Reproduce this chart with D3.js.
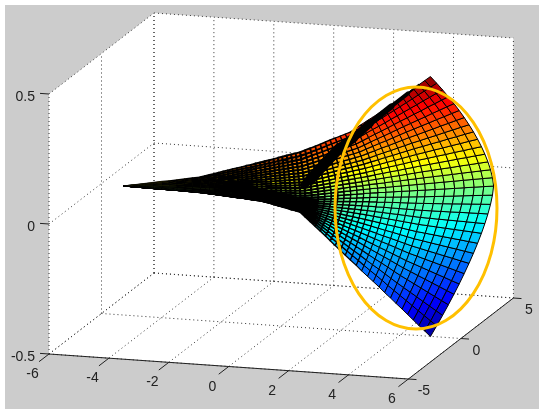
<!DOCTYPE html>
<html><head><meta charset="utf-8">
<style>html,body{margin:0;padding:0;background:#fff}svg{display:block;filter:blur(0.35px)}text{font-family:"Liberation Sans",Arial,sans-serif;font-size:14px;fill:#222}</style>
<script src="https://cdn.jsdelivr.net/npm/d3@7/dist/d3.min.js"></script>
</head><body><svg id="c" width="543" height="414"></svg>
<script>
const xTicks=[-6,-4,-2,0,2,4,6];
const yTicks=[-5,0,5];
const zTicks=[-0.5,0,0.5];
const zTickLabels=["-0.5","0","0.5"];
// Row positions across each arc (bottom edge to top edge)
const rowPos=[-1,-.933,-.867,-.8,-.733,-.667,-.6,-.533,-.467,-.4,-.333,-.267,-.2,-.133,-.067,0,.067,.133,.2,.267,.333,.4,.467,.533,.6,.667,.733,.8,.867,.933,1];
// Per-arc profiles, tip to right edge
const edgeX=[-5.24,-5.01,-4.78,-4.55,-4.32,-4.09,-3.86,-3.63,-3.40,-3.17,-2.94,-2.81,-2.68,-2.54,-2.41,-2.28,-2.15,-2.01,-1.88,-1.75,-1.62,-1.48,-1.35,-1.22,-1.08,-.94,-.80,-.66,-.53,-.39,-.25,-.11,.03,.24,.45,.66,.87,1.08,1.28,1.49,1.70,1.91,2.12,2.33,2.53,2.74,2.95,3.16,3.36,3.57,3.77,3.98,4.18,4.38,4.58,4.79,4.99];
const edgeY=[-.11,-.03,.04,.12,.20,.28,.35,.43,.51,.58,.66,.72,.79,.85,.91,.98,1.04,1.10,1.16,1.23,1.29,1.35,1.42,1.48,1.51,1.54,1.56,1.59,1.62,1.65,1.67,1.70,1.73,1.61,1.49,1.37,1.25,1.14,1.02,.90,.78,.66,.54,.50,.45,.41,.36,.32,.27,.23,.19,.16,.12,.09,.05,.02,-.02];
const edgeZ=[0,.003,.006,.009,.012,.015,.017,.020,.023,.026,.029,.032,.036,.039,.043,.046,.049,.053,.056,.059,.063,.066,.070,.073,.078,.082,.087,.092,.096,.101,.106,.110,.115,.128,.141,.154,.167,.181,.194,.207,.220,.233,.246,.264,.282,.300,.317,.335,.353,.371,.389,.408,.426,.445,.463,.482,.5];
const midX=[-5.24,-4.98,-4.72,-4.46,-4.20,-3.95,-3.69,-3.43,-3.17,-2.91,-2.65,-2.49,-2.34,-2.18,-2.03,-1.87,-1.71,-1.56,-1.40,-1.25,-1.09,-.93,-.78,-.62,-.46,-.30,-.14,.02,.18,.34,.50,.66,.82,1.0,1.18,1.36,1.54,1.72,1.89,2.07,2.25,2.43,2.61,2.83,3.06,3.28,3.51,3.73,3.96,4.18,4.46,4.73,5.01,5.28,5.56,5.83,6.11];
const midY=[-.11,-.11,-.10,-.10,-.10,-.09,-.09,-.09,-.08,-.08,-.07,-.07,-.07,-.07,-.06,-.06,-.06,-.06,-.05,-.05,-.05,-.05,-.04,-.04,-.04,-.04,-.04,-.04,-.04,-.04,-.04,-.04,-.04,.07,.18,.28,.39,.50,.61,.72,.82,.93,1.04,1.15,1.26,1.37,1.48,1.59,1.70,1.81,1.95,2.09,2.23,2.38,2.52,2.66,2.80];
// Colour span of each arc above and below its green centre
const colorTop=[.10,.11,.12,.13,.14,.15,.16,.17,.18,.19,.20,.21,.22,.22,.23,.24,.25,.26,.26,.27,.28,.28,.28,.28,.29,.29,.29,.29,.29,.29,.30,.30,.30,.30,.31,.31,.32,.32,.32,.33,.33,.34,.34,.35,.36,.37,.38,.40,.41,.42,.43,.44,.45,.46,.47,.49,.5];
const colorBottom=[.05,.05,.05,.05,.06,.06,.06,.06,.06,.06,.06,.07,.07,.07,.07,.07,.07,.08,.08,.08,.08,.08,.08,.08,.09,.09,.09,.09,.09,.09,.10,.10,.10,.11,.11,.12,.13,.15,.17,.19,.21,.23,.25,.26,.27,.28,.29,.30,.31,.32,.34,.37,.39,.42,.45,.47,.5];
// Dense crease where mesh lines pile up to solid black
const foldArc=[32,33,36,39,42,45,49,52,54];
const foldRow=[.34,.42,.66,.82,.9,.95,.985,.995,1];
const foldWidth=[6,10,11,10,9,7,5,3,1];
const jetStops=[0,.125,.375,.625,.875,1];
const jetColors=["#00008f","#0000ff","#00ffff","#ffff00","#ff0000","#800000"];

const xH=d3.scaleLinear().domain([-6,6]).range([49,408.4]);
const yH=d3.scaleLinear().domain([-5,5]).range([0,105]);
const xV=d3.scaleLinear().domain([-6,6]).range([354,379]);
const yV=d3.scaleLinear().domain([-5,5]).range([0,-81]);
const zV=d3.scaleLinear().domain([-.5,.5]).range([0,-260]);
const jet=d3.scaleLinear().domain(jetStops).range(jetColors).interpolate(d3.interpolateRgb);
const arcStroke=d3.scaleLinear().domain([0,10,20,32,36,44]).range([.6,1.3,1.9,2,1.5,1]).clamp(true);
const project=(x,y,z)=>[xH(x)+yH(y),xV(x)+yV(y)+zV(z)];
const line=d3.line();
const svg=d3.select("#c");

svg.append("rect").attr("x",5).attr("y",5).attr("width",534).attr("height",404).attr("fill","#cccccc");
const [x0,x1]=d3.extent(xTicks),[y0,y1]=d3.extent(yTicks),[z0,z1]=d3.extent(zTicks);
svg.append("path").attr("fill","#fff").attr("d",line([
 project(x0,y0,z0),project(x0,y0,z1),project(x0,y1,z1),project(x1,y1,z1),project(x1,y1,z0),project(x1,y0,z0)])+"Z");

// Dotted grid
const gridSegs=[];
yTicks.forEach(y=>{gridSegs.push([project(x0,y,z0),project(x0,y,z1)]);gridSegs.push([project(x0,y,z0),project(x1,y,z0)]);});
xTicks.forEach(x=>{gridSegs.push([project(x,y1,z0),project(x,y1,z1)]);gridSegs.push([project(x,y0,z0),project(x,y1,z0)]);});
zTicks.forEach(z=>{gridSegs.push([project(x0,y0,z),project(x0,y1,z)]);gridSegs.push([project(x0,y1,z),project(x1,y1,z)]);});
svg.append("g").attr("fill","none").attr("stroke","#333").attr("stroke-width",1).attr("stroke-dasharray","1 3")
 .selectAll("path").data(gridSegs).join("path").attr("d",d=>line(d));

// Axis lines and ticks
const axisG=svg.append("g").attr("stroke","#222").attr("stroke-width",1).attr("fill","none");
axisG.append("path").attr("d",line([project(x0,y0,z0),project(x1,y0,z0),project(x1,y1,z0)]));
xTicks.forEach(x=>axisG.append("path").attr("d",line([project(x,y0,z0),project(x,y0-.95,z0)])));
yTicks.forEach(y=>axisG.append("path").attr("d",line([project(x1,y,z0),project(x1+.27,y,z0)])));
zTicks.forEach(z=>axisG.append("path").attr("d",line([project(x0,y0,z),project(x0-.3,y0,z)])));

// Tick labels
xTicks.forEach(x=>{const p=project(x,y0,z0);svg.append("text").attr("x",p[0]-16.4).attr("y",p[1]+24).attr("text-anchor","middle").text(x);});
yTicks.forEach(y=>{const p=project(x1,y,z0);svg.append("text").attr("x",p[0]+15.5).attr("y",p[1]+16).attr("text-anchor","middle").text(y);});
zTicks.forEach((z,i)=>{const p=project(x0,y0,z);svg.append("text").attr("x",35).attr("y",p[1]+6.5).attr("text-anchor","end").text(zTickLabels[i]);});

// Surface mesh
const vertex=(k,s)=>{const w=1-Math.pow(Math.abs(s),1.5);
 return project(edgeX[k]+(midX[k]-edgeX[k])*w,edgeY[k]+(midY[k]-edgeY[k])*w,edgeZ[k]*s);};
const cells=[];
d3.range(edgeX.length-1).forEach(k=>{d3.range(rowPos.length-1).forEach(j=>{
 const a=rowPos[j],b=rowPos[j+1],s=(a+b)/2;
 const c=s>=0?.5+s*(colorTop[k]+colorTop[k+1])/2:.5+s*(colorBottom[k]+colorBottom[k+1])/2;
 cells.push({c:jet(c),w:arcStroke(k),d:line([vertex(k,a),vertex(k+1,a),vertex(k+1,b),vertex(k,b)])+"Z"});
});});
svg.append("g").attr("stroke","#000").attr("stroke-linejoin","round")
 .selectAll("path").data(cells).join("path").attr("fill",d=>d.c).attr("stroke-width",d=>d.w).attr("d",d=>d.d);

// Crease
d3.pairs(d3.range(foldArc.length)).forEach(([i,j])=>{
 svg.append("path").attr("fill","none").attr("stroke","#000").attr("stroke-linecap","round")
  .attr("stroke-width",(foldWidth[i]+foldWidth[j])/2)
  .attr("d",line([vertex(foldArc[i],foldRow[i]),vertex(foldArc[j],foldRow[j])]));
});

// Highlight ellipse
svg.append("ellipse").attr("cx",416).attr("cy",208).attr("rx",81).attr("ry",121)
 .attr("fill","none").attr("stroke","#ffc000").attr("stroke-width",3);
</script></body></html>
